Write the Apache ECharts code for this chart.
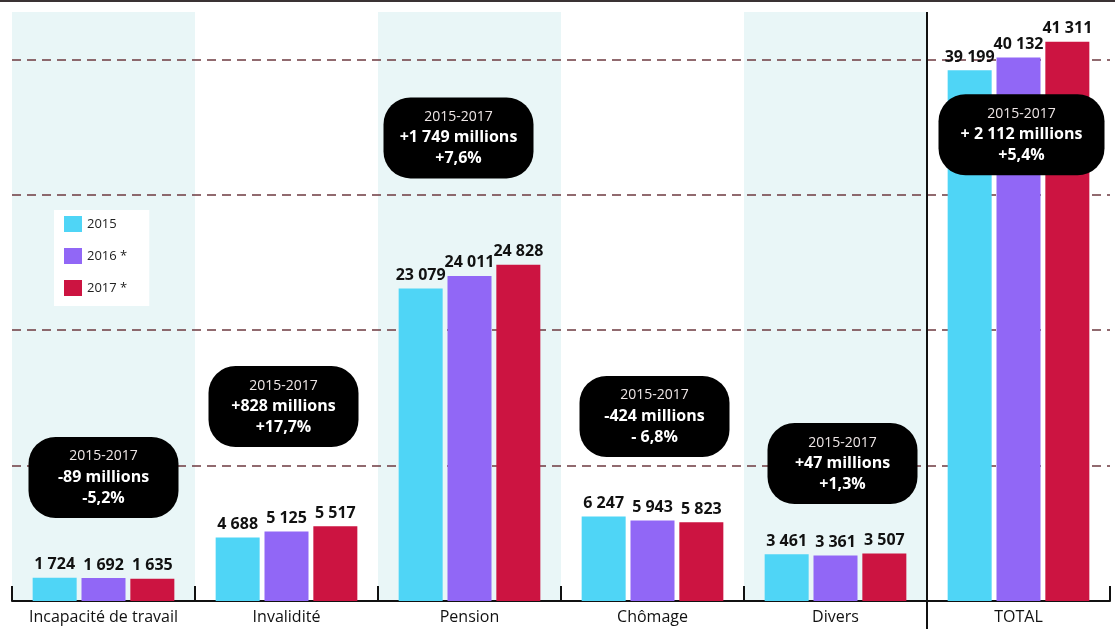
<!DOCTYPE html>
<html>
<head>
<meta charset="utf-8">
<script src="https://cdn.jsdelivr.net/npm/echarts@6/dist/echarts.min.js"></script>
<style>
  html, body { margin: 0; padding: 0; background: #fff; }
  #main { width: 1115px; height: 629px; }
</style>
</head>
<body>
<div id="main"></div>
<script>
// categories and yearly values (millions)
var categories = ['Incapacité de travail', 'Invalidité', 'Pension', 'Chômage', 'Divers', 'TOTAL'];
var years = ['2015', '2016 *', '2017 *'];
var values2015 = [1724, 4688, 23079, 6247, 3461, 39199];
var values2016 = [1692, 5125, 24011, 5943, 3361, 40132];
var values2017 = [1635, 5517, 24828, 5823, 3507, 41311];

// 2015-2017 change, as printed in the callouts
var changeMillions = ['-89', '+828', '+1 749', '-424', '+47', '+ 2 112'];
var changePct = ['-5,2%', '+17,7%', '+7,6%', '- 6,8%', '+1,3%', '+5,4%'];

var FONT = 'Open Sans';
var colors = ['#4fd5f6', '#9167f6', '#cc1441'];

function fmt(v) {
    return String(v).replace(/\B(?=(\d{3})+(?!\d))/g, ' ');
}

// where the callouts sit (y in data units, x shift in px)
var calloutY = [9125, 14360, 34200, 13630, 10150, 34430];
var calloutDx = [0, -3, -11, 2, 7, 3];

var callouts = categories.map(function (c, i) {
    return {
        coord: [c, calloutY[i]],
        label: {
            offset: [calloutDx[i], 0],
            width: i === 5 ? 128 : 112
        },
        value: i
    };
});

var myChart = echarts.init(document.getElementById('main'));

function barSeries(name, data, idx) {
    var s = {
        name: name,
        type: 'bar',
        data: data,
        barWidth: 44,
        barGap: '11%',
        itemStyle: { color: colors[idx] },
        label: {
            show: true,
            position: 'top',
            distance: 5,
            color: '#111',
            fontFamily: FONT,
            fontWeight: 'bold',
            fontSize: 16,
            formatter: function (p) { return fmt(p.value); }
        }
    };
    // middle series sits on the category centre, so hang the callouts there
    if (idx === 1) {
        s.markPoint = {
            symbol: 'rect',
            symbolSize: 1,
            itemStyle: { color: 'rgba(0,0,0,0)' },
            z: 10,
            label: {
                show: true,
                position: 'inside',
                backgroundColor: '#000',
                borderRadius: 27,
                padding: [9, 19],
                align: 'center',
                formatter: function (p) {
                    var i = p.data.value;
                    return '{a|2015-2017}\n{b|' + changeMillions[i] + ' millions}\n{b|' + changePct[i] + '}';
                },
                rich: {
                    a: { color: '#eee6e6', fontFamily: FONT, fontSize: 14, lineHeight: 21, align: 'center' },
                    b: { color: '#fff', fontFamily: FONT, fontSize: 16, fontWeight: 'bold', lineHeight: 21, align: 'center' }
                }
            },
            data: callouts
        };
    }
    return s;
}

var option = {
    animation: false,
    backgroundColor: '#fff',
    grid: { left: 12, right: 5, top: 12, bottom: 28 },
    legend: {
        orient: 'vertical',
        left: 54,
        top: 210,
        data: years,
        itemWidth: 18,
        itemHeight: 16,
        itemGap: 16,
        backgroundColor: '#fff',
        padding: [6, 22, 10, 10],
        icon: 'rect',
        textStyle: { fontFamily: FONT, fontSize: 13, color: '#222' }
    },
    xAxis: {
        type: 'category',
        data: categories,
        z: 0,
        axisLine: { lineStyle: { color: '#111', width: 2 } },
        axisTick: { show: true, inside: true, interval: 0, length: 15, lineStyle: { color: '#111', width: 2 } },
        axisLabel: { interval: 0, color: '#111', fontFamily: FONT, fontSize: 16, margin: 8 },
        splitArea: { show: true, interval: 0, areaStyle: { color: ['#e9f6f7', 'rgba(255,255,255,0)'] } }
    },
    yAxis: {
        type: 'value',
        min: 0,
        max: 43500,
        interval: 10000,
        z: 1,
        axisLine: { show: false },
        axisTick: { show: false },
        axisLabel: { show: false },
        splitLine: {
            show: true,
            showMinLine: false,
            showMaxLine: false,
            lineStyle: { color: '#6e3a40', width: 1.5, type: [9, 6] }
        }
    },
    series: [
        barSeries(years[0], values2015, 0),
        barSeries(years[1], values2016, 1),
        barSeries(years[2], values2017, 2)
    ]
};

myChart.setOption(option);

// divider before TOTAL and the top rule
var xa = myChart.convertToPixel({ xAxisIndex: 0 }, categories[4]);
var xb = myChart.convertToPixel({ xAxisIndex: 0 }, categories[5]);
var xDiv = (xa + xb) / 2;
myChart.setOption({
    graphic: [
        { type: 'line', shape: { x1: xDiv, y1: 12, x2: xDiv, y2: 629 }, style: { stroke: '#111', lineWidth: 2 }, z: 5 },
        { type: 'line', shape: { x1: 0, y1: 1, x2: 1115, y2: 1 }, style: { stroke: '#3a3234', lineWidth: 2 }, z: 5 }
    ]
});
</script>
</body>
</html>
